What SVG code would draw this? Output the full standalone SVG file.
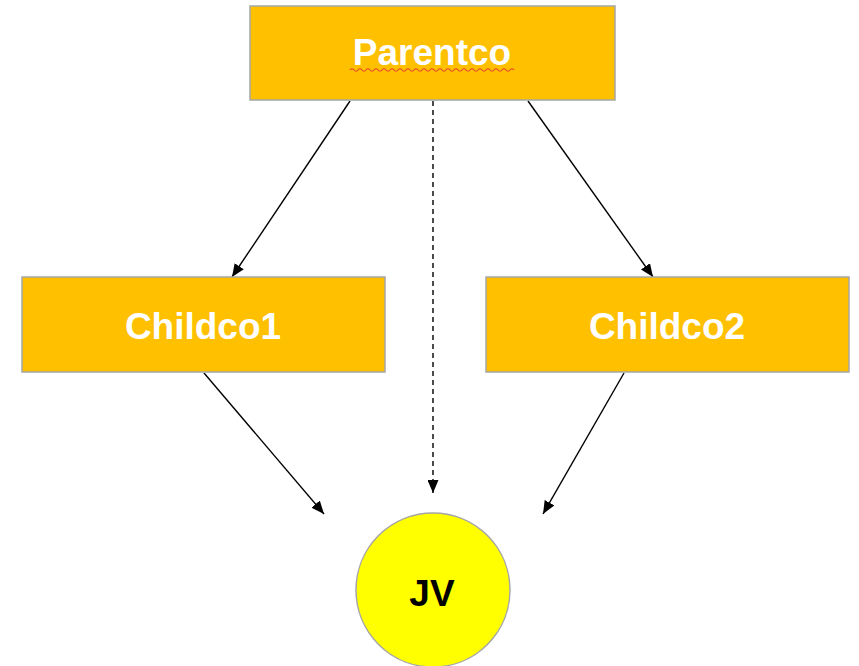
<svg xmlns="http://www.w3.org/2000/svg" width="859" height="666" viewBox="0 0 859 666">
<style>
.box{fill:#FFC000;stroke:#A6A6A6;stroke-width:1.5}
.lbl{font-family:"Liberation Sans",Arial,sans-serif;font-weight:bold;font-size:37px;text-anchor:middle}
.w{fill:#FFFFFF}
.k{fill:#000000}
.conn{stroke:#000;stroke-width:1.4;fill:none;marker-end:url(#ah)}
</style>
<defs>
<marker id="ah" viewBox="0 0 13 11" refX="13" refY="5.5" markerWidth="13" markerHeight="11" markerUnits="userSpaceOnUse" orient="auto">
<path d="M0,0 L13,5.5 L0,11 Z" fill="#000"/>
</marker>
</defs>
<rect width="859" height="666" fill="#fff"/>
<g id="connectors">
<line class="conn" x1="350" y1="101" x2="232" y2="277"/>
<line class="conn" x1="528" y1="101" x2="653" y2="277"/>
<line class="conn" x1="433" y1="101" x2="433" y2="493" stroke-dasharray="5,4"/>
<line class="conn" x1="204" y1="373" x2="324" y2="514"/>
<line class="conn" x1="624" y1="373" x2="543" y2="514"/>
</g>
<g id="parentco">
<rect class="box" x="250" y="6" width="365" height="94"/>
<text class="lbl w" x="432" y="65">Parentco</text>
<path d="M350,70 q2,-2.5 4,0 t4,0 t4,0 t4,0 t4,0 t4,0 t4,0 t4,0 t4,0 t4,0 t4,0 t4,0 t4,0 t4,0 t4,0 t4,0 t4,0 t4,0 t4,0 t4,0 t4,0 t4,0 t4,0 t4,0 t4,0 t4,0 t4,0 t4,0 t4,0 t4,0 t4,0 t4,0 t4,0 t4,0 t4,0 t4,0 t4,0 t4,0 t4,0 t4,0 t4,0" fill="none" stroke="#E8452C" stroke-width="1.2"/>
</g>
<g id="childco1">
<rect class="box" x="22" y="277" width="363" height="95"/>
<text class="lbl w" x="203" y="339">Childco1</text>
</g>
<g id="childco2">
<rect class="box" x="486" y="277" width="363" height="95"/>
<text class="lbl w" x="667" y="339">Childco2</text>
</g>
<g id="jv">
<circle cx="433" cy="590" r="77" fill="#FFFF00" stroke="#A6A6A6" stroke-width="1.5"/>
<text class="lbl k" x="432" y="606" style="font-size:37px">JV</text>
</g>
</svg>
